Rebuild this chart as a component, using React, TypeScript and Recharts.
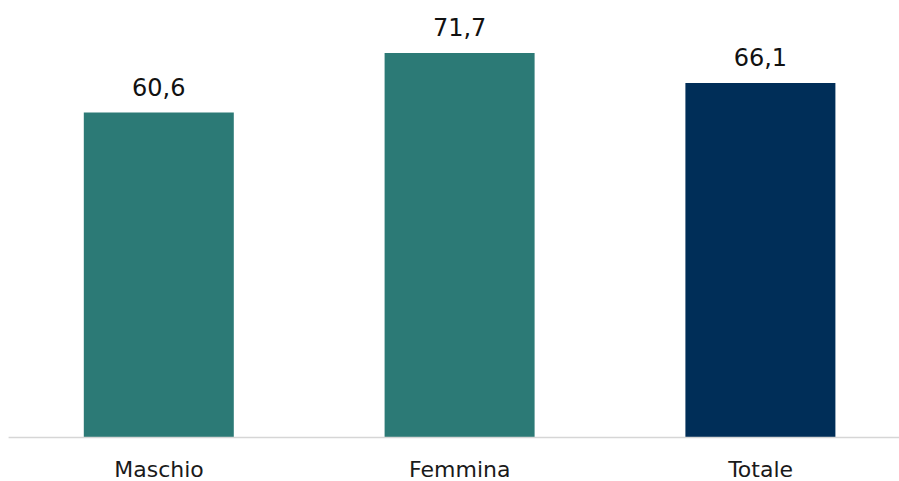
import { BarChart, Bar, XAxis, YAxis, Cell, LabelList } from "recharts";

const categories = ["Maschio", "Femmina", "Totale"];
const values = [60.6, 71.7, 66.1];
const barColors = ["#2C7A76", "#2C7A76", "#002E58"];

const data = categories.map((name, i) => ({ name, value: values[i] }));

export default function App() {
  return (
    <div style={{ width: 899, height: 481, overflow: "hidden", position: "absolute", left: 0, top: 0, background: "#fff" }}>
      <BarChart
        width={911}
        height={481}
        data={data}
        margin={{ top: 8.5, right: 0, bottom: 0, left: 8.6 }}
        barCategoryGap="25%"
      >
        <XAxis
          dataKey="name"
          height={43.5}
          axisLine={{ stroke: "#d6d6d6", strokeWidth: 1.5 }}
          tickLine={false}
          tickSize={0}
          tickMargin={24}
          tick={{ fill: "#1a1a1a", fontSize: 22, fontFamily: "DejaVu Sans" }}
        />
        <YAxis hide domain={[0, 80]} />
        <Bar dataKey="value" isAnimationActive={false}>
          {data.map((d, i) => (
            <Cell key={d.name} fill={barColors[i]} />
          ))}
          <LabelList
            dataKey="value"
            position="top"
            offset={17}
            fill="#111"
            fontSize={24}
            fontFamily="DejaVu Sans"
            formatter={(v: any) => String(v).replace(".", ",")}
          />
        </Bar>
      </BarChart>
    </div>
  );
}
